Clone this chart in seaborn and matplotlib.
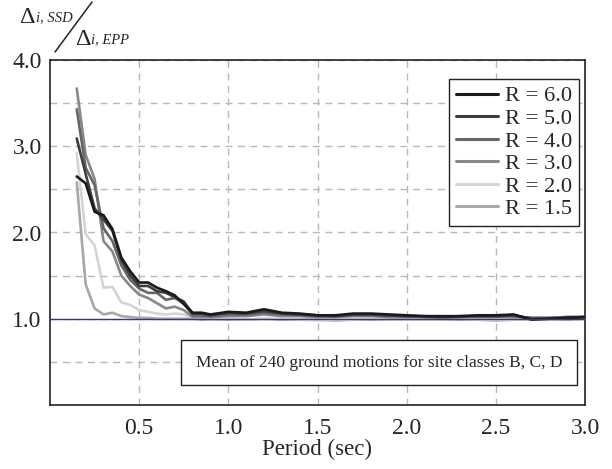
import matplotlib
matplotlib.use("Agg")
import matplotlib.pyplot as plt
from matplotlib.lines import Line2D
import seaborn as sns
import pandas as pd

# ---- data ----
period = [0.15, 0.20, 0.25, 0.30, 0.35, 0.40, 0.45, 0.50, 0.55, 0.60, 0.65, 0.70, 0.75, 0.80,
          0.85, 0.90, 1.0, 1.1, 1.2, 1.3, 1.4, 1.5, 1.6, 1.7, 1.8, 1.9, 2.0, 2.1, 2.2, 2.3,
          2.4, 2.5, 2.6, 2.7, 2.8, 2.9, 3.0]

r60 = [2.65, 2.57, 2.24, 2.20, 2.04, 1.71, 1.55, 1.42, 1.42, 1.36, 1.32, 1.27, 1.17, 1.07,
       1.07, 1.05, 1.08, 1.07, 1.11, 1.07, 1.06, 1.04, 1.04, 1.06, 1.06, 1.05, 1.04, 1.03,
       1.03, 1.03, 1.04, 1.04, 1.05, 0.99, 1.00, 1.01, 1.02]
r50 = [3.09, 2.68, 2.28, 2.15, 2.02, 1.68, 1.50, 1.38, 1.38, 1.32, 1.30, 1.25, 1.20, 1.06,
       1.06, 1.04, 1.07, 1.06, 1.09, 1.06, 1.05, 1.04, 1.03, 1.05, 1.05, 1.04, 1.03, 1.03,
       1.02, 1.03, 1.03, 1.03, 1.04, 1.00, 1.00, 1.01, 1.02]
r40 = [3.43, 2.75, 2.55, 2.05, 1.90, 1.62, 1.45, 1.35, 1.30, 1.30, 1.22, 1.24, 1.18, 1.04,
       1.04, 1.03, 1.05, 1.05, 1.07, 1.05, 1.04, 1.03, 1.03, 1.04, 1.04, 1.03, 1.03, 1.02,
       1.02, 1.02, 1.03, 1.03, 1.03, 1.01, 1.01, 1.02, 1.02]
r30 = [3.67, 2.90, 2.62, 1.90, 1.78, 1.50, 1.38, 1.28, 1.24, 1.18, 1.12, 1.14, 1.10, 1.02,
       1.02, 1.02, 1.03, 1.03, 1.05, 1.03, 1.03, 1.02, 1.02, 1.03, 1.03, 1.02, 1.02, 1.02,
       1.01, 1.02, 1.02, 1.02, 1.02, 1.01, 1.01, 1.02, 1.02]
r20 = [2.92, 1.98, 1.85, 1.36, 1.37, 1.19, 1.16, 1.10, 1.08, 1.06, 1.05, 1.06, 1.05, 1.02,
       1.00, 0.99, 1.00, 0.99, 1.00, 1.00, 0.99, 0.98, 0.99, 0.99, 1.00, 0.99, 0.99, 0.99,
       0.99, 1.00, 0.99, 0.99, 0.99, 0.99, 0.99, 1.00, 1.00]
r15 = [2.58, 1.40, 1.12, 1.05, 1.07, 1.03, 1.02, 1.01, 1.01, 1.00, 1.00, 1.00, 1.00, 1.00,
       0.99, 0.99, 0.99, 0.99, 1.00, 0.99, 0.99, 0.99, 0.98, 0.99, 0.99, 0.99, 0.99, 0.99,
       0.99, 0.99, 0.99, 0.98, 0.99, 0.99, 0.99, 0.99, 1.00]

series_labels = ["R = 6.0", "R = 5.0", "R = 4.0", "R = 3.0", "R = 2.0", "R = 1.5"]
series_values = [r60, r50, r40, r30, r20, r15]
series_colors = ["#1a1a1a", "#3e3e3e", "#666666", "#888888", "#d4d4d4", "#a8a8a8"]

x_ticks = [0.5, 1.0, 1.5, 2.0, 2.5, 3.0]
x_ticklabels = ["0.5", "1.0", "1.5", "2.0", "2.5", "3.0"]
y_ticks = [1.0, 2.0, 3.0, 4.0]
y_ticklabels = ["1.0", "2.0", "3.0", "4.0"]
y_minor = [0.5, 1.5, 2.5, 3.5]

note_text = "Mean of 240 ground motions for site classes B, C, D"
x_label = "Period (sec)"
ylab_symbol = "\u0394"
ylab_num_sub = "i, SSD"
ylab_den_sub = "i, EPP"

rows = []
for lab, vals in zip(series_labels, series_values):
    for p, v in zip(period, vals):
        rows.append({"Period": p, "Ratio": v, "R": lab})
df = pd.DataFrame(rows)

# ---- style ----
sns.set_style("white")
plt.rcParams["font.family"] = ["Liberation Serif", "DejaVu Serif"]

fig = plt.figure(figsize=(6.12, 4.69), dpi=100)
ax = fig.add_axes([50 / 612, 1 - 405 / 469, 535 / 612, 345 / 469])

palette = dict(zip(series_labels, series_colors))
draw_order = series_labels[::-1]
sns.lineplot(data=df, x="Period", y="Ratio", hue="R", hue_order=draw_order,
             palette=palette, linewidth=1.9, ax=ax, legend=True, zorder=3)

ax.axhline(1.0, color="#3030a8", linewidth=1.0, zorder=5)

ax.set_xlim(0, 3.0)
ax.set_ylim(0, 4.0)
ax.set_xticks(x_ticks)
ax.set_xticklabels(x_ticklabels)
ax.set_yticks(y_ticks)
ax.set_yticklabels(y_ticklabels)
ax.set_yticks(y_minor, minor=True)
ax.tick_params(axis="both", which="both", length=0, labelsize=17)
ax.tick_params(axis="x", pad=9)
ax.tick_params(axis="y", pad=6)
ax.grid(True, which="both", color="#b8b8b8", linestyle=(0, (5, 4)), linewidth=1.0, zorder=0)
ax.set_axisbelow(True)
for s in ax.spines.values():
    s.set_color("#222222")
    s.set_linewidth(1.2)

ax.set_xlabel(x_label, fontsize=16.5, labelpad=0)
ax.set_ylabel("")

handles, labels = ax.get_legend_handles_labels()
hmap = dict(zip(labels, handles))
leg = ax.legend([hmap[l] for l in series_labels], series_labels,
                loc="upper right", bbox_to_anchor=(0.989, 0.945), fontsize=16.2,
                frameon=True, fancybox=False, framealpha=1, edgecolor="#222222",
                handlelength=1.9, handletextpad=0.3, labelspacing=0.08,
                borderpad=0.3, borderaxespad=0)
leg.get_frame().set_linewidth(1.0)
for h in leg.get_lines():
    h.set_linewidth(2.2)

ax.text(0.6155, 0.123, note_text, transform=ax.transAxes, fontsize=12.5,
        ha="center", va="center", zorder=6,
        bbox=dict(boxstyle="square,pad=0.85", facecolor="white", edgecolor="#222222",
                  linewidth=1.0))

# y-axis label drawn as a slashed ratio
fig.text(19 / 612, 1 - 23 / 469, ylab_symbol, fontsize=17.5, ha="left", va="baseline")
fig.text(36 / 612, 1 - 21 / 469, ylab_num_sub, fontsize=10.5, style="italic",
         ha="left", va="baseline")
fig.text(75 / 612, 1 - 45 / 469, ylab_symbol, fontsize=17.5, ha="left", va="baseline")
fig.text(91 / 612, 1 - 43 / 469, ylab_den_sub, fontsize=10.5, style="italic",
         ha="left", va="baseline")
fig.add_artist(Line2D([55 / 612, 92 / 612], [1 - 52 / 469, 1 - 2 / 469],
                      transform=fig.transFigure, color="#222222", linewidth=1.1))

fig.savefig("out.png", dpi=100)
